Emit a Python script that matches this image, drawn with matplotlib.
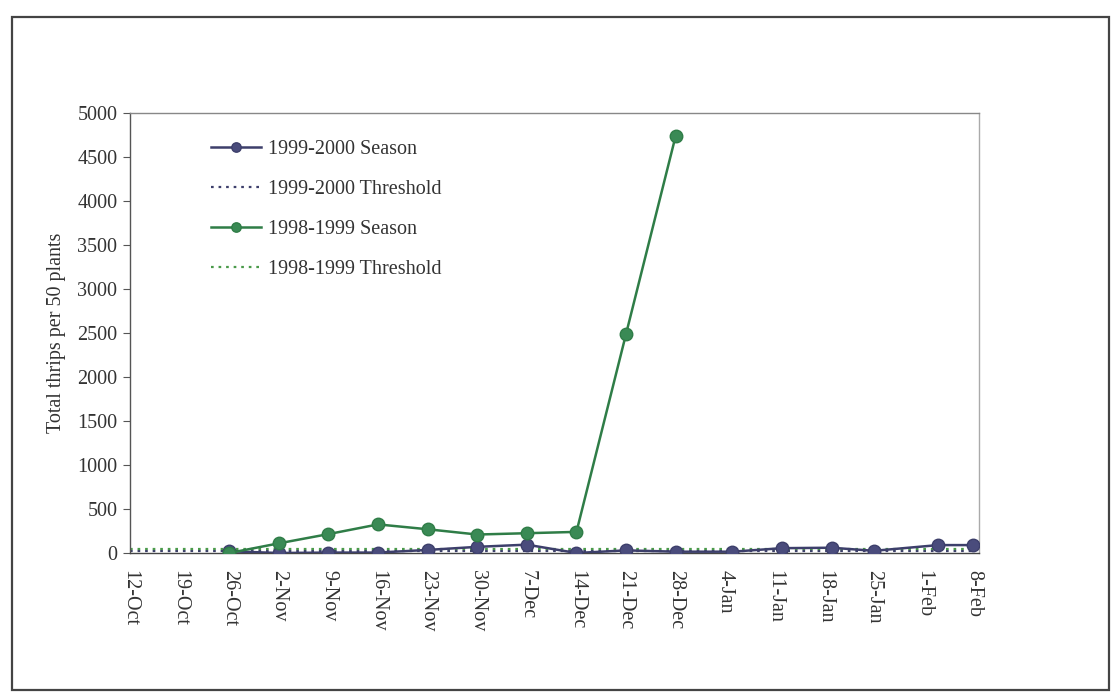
import pandas as pd
import matplotlib.pyplot as plt
from matplotlib.patches import Rectangle

plt.rcParams['font.family'] = ['Liberation Serif', 'DejaVu Serif']

# Sampling dates and total thrips counts for each season
dates_9900 = ['26-Oct', '2-Nov', '9-Nov', '16-Nov', '23-Nov', '30-Nov', '7-Dec', '14-Dec',
              '21-Dec', '28-Dec', '5-Jan', '12-Jan', '19-Jan', '25-Jan', '3-Feb', '8-Feb']
thrips_9900 = [20, 0, 5, 5, 35, 70, 95, 0, 30, 15, 15, 55, 60, 25, 90, 90]

dates_9899 = ['26-Oct', '2-Nov', '9-Nov', '16-Nov', '23-Nov', '30-Nov', '7-Dec', '14-Dec',
              '21-Dec', '28-Dec']
thrips_9899 = [0, 110, 215, 325, 270, 210, 225, 240, 2490, 4740]

# Weekly axis dates, also used for the threshold lines
week_labels = ['12-Oct', '19-Oct', '26-Oct', '2-Nov', '9-Nov', '16-Nov', '23-Nov', '30-Nov',
               '7-Dec', '14-Dec', '21-Dec', '28-Dec', '4-Jan', '11-Jan', '18-Jan', '25-Jan',
               '1-Feb', '8-Feb']
threshold_9900 = [20] * len(week_labels)
threshold_9899 = [50] * len(week_labels)


def to_date(labels):
    # put both seasons on one Oct-Feb calendar
    out = []
    for s in labels:
        yr = 2000 if s.split('-')[1] in ('Jan', 'Feb') else 1999
        out.append(pd.to_datetime(f'{s}-{yr}', format='%d-%b-%Y'))
    return out


navy = '#3d3f6b'
green = '#2f7d47'

fig = plt.figure(figsize=(11.13, 6.93), dpi=100)
ax = fig.add_axes([0.1168, 0.202, 0.7628, 0.635])

weeks = to_date(week_labels)
ax.plot(weeks, threshold_9900, color=navy, ls=(0, (1.2, 2.2)), lw=1.6, zorder=2,
        label='1999-2000 Threshold')
ax.plot(weeks, threshold_9899, color='#4a9a4a', ls=(0, (1.2, 2.2)), lw=1.6, zorder=2,
        label='1998-1999 Threshold')
ax.plot(to_date(dates_9900), thrips_9900, color=navy, lw=1.8, marker='o', ms=9,
        markerfacecolor='#4a4c7c', markeredgecolor=navy, zorder=3, label='1999-2000 Season')
ax.plot(to_date(dates_9899), thrips_9899, color=green, lw=1.8, marker='o', ms=9,
        markerfacecolor='#3a8a55', markeredgecolor=green, zorder=4, label='1998-1999 Season')

ax.set_ylim(0, 5000)
ax.set_yticks(range(0, 5001, 500))
ax.set_xlim(weeks[0], weeks[-1] + pd.Timedelta(days=0.8))
ax.set_xticks(weeks)
ax.set_xticklabels(week_labels, rotation=270, fontsize=14.5)
ax.tick_params(axis='y', labelsize=14.5, direction='out', length=5, color='#555555', pad=4)
ax.tick_params(axis='x', direction='out', length=0, pad=12)
ax.set_ylabel('Total thrips per 50 plants', fontsize=14.5, color='#333333', labelpad=8)

for t in ax.get_xticklabels() + ax.get_yticklabels():
    t.set_color('#333333')

ax.spines['left'].set_color('#555555')
ax.spines['bottom'].set_color('#444444')
ax.spines['top'].set_color('#888888')
ax.spines['right'].set_color('#aaaaaa')
for sp in ax.spines.values():
    sp.set_linewidth(1.0)

# legend in the same order as the series were listed
h, l = ax.get_legend_handles_labels()
order = [2, 0, 3, 1]
ax.legend([h[i] for i in order], [l[i] for i in order], loc='upper left',
          bbox_to_anchor=(0.095, 0.938), frameon=False, fontsize=14.5,
          handlelength=2.5, handletextpad=0.35, labelspacing=1.03, markerscale=0.75,
          borderpad=0, borderaxespad=0, labelcolor='#333333')

# outer chart border
fig.patches.append(Rectangle((0.011, 0.004), 0.985, 0.972, transform=fig.transFigure,
                             fill=False, edgecolor='#444444', lw=1.6))

fig.savefig('out.png', dpi=100)
